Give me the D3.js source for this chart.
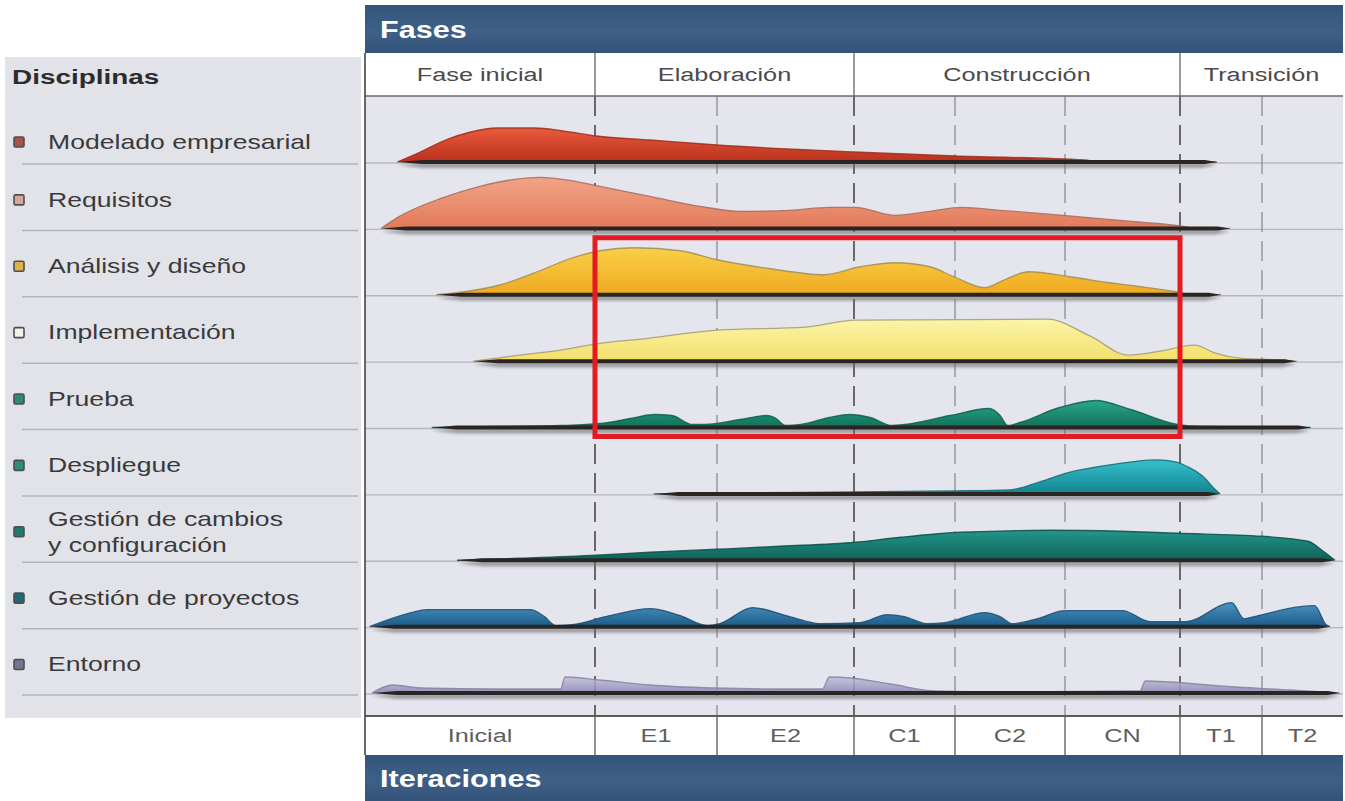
<!DOCTYPE html>
<html lang="es">
<head>
<meta charset="utf-8">
<title>Disciplinas e iteraciones</title>
<script src="https://cdn.jsdelivr.net/npm/d3@7/dist/d3.min.js"></script>
<style>
  html, body { margin: 0; padding: 0; background: #ffffff; }
  svg { display: block; font-family: "Liberation Sans", Arial, sans-serif; }
</style>
</head>
<body>
<svg id="chart" width="1345" height="801"></svg>
<script>
// ---------------------------------------------------------------
// Data: phases, iterations and the effort profile of each discipline.
// x values are positions along the project timeline measured in
// iterations (0 = start of "Inicial", 8 = end of "T2");
// effort values are relative (0-100).
// ---------------------------------------------------------------
const iterations = ["Inicial", "E1", "E2", "C1", "C2", "CN", "T1", "T2"];
const phases = ["Fase inicial", "Elaboración", "Construcción", "Transición"];
const phaseStart = [0, 1, 3, 6];
const phaseEnd = [1, 3, 6, 8];

const disciplines = [
  "Modelado empresarial", "Requisitos", "Análisis y diseño", "Implementación",
  "Prueba", "Despliegue", "Gestión de cambios\ny configuración",
  "Gestión de proyectos", "Entorno"
];

const modelado = [[0.14,0],[0.24,20],[0.35,44],[0.46,60],[0.57,68],[0.74,68],[0.86,62],[1.01,52],[1.45,44],[2.0,34],[3.0,20],[4.0,12],[5.17,4],[5.3,0],[6.45,0]];
const requisitos = [[0.07,0],[0.15,24],[0.33,60],[0.5,84],[0.65,98],[0.76,102],[0.89,96],[1.0,86],[1.45,64],[1.86,44],[2.17,34],[2.53,36],[2.82,42],[3.01,42],[3.41,26],[3.75,34],[4.06,42],[4.41,36],[4.88,28],[5.48,16],[5.97,6],[6.24,0],[6.61,0]];
const analisis = [[0.31,0],[0.46,8],[0.59,20],[0.76,48],[0.89,72],[1.04,88],[1.32,94],[1.7,88],[2.0,70],[2.39,52],[2.78,40],[3.06,56],[3.41,64],[3.75,56],[3.99,36],[4.27,14],[4.45,30],[4.67,46],[5.04,36],[5.39,24],[5.66,16],[5.97,6],[6.18,0],[6.5,0]];
const implementacion = [[0.47,0],[0.67,12],[0.85,22],[1.0,34],[1.45,46],[2.0,62],[2.65,68],[3.01,82],[4.84,84],[5.22,50],[5.55,12],[5.83,20],[6.18,32],[6.43,16],[6.73,6],[6.98,4],[7.43,0]];
const prueba = [[0.29,0],[0.59,2],[0.85,4],[1.04,8],[1.29,18],[1.49,26],[1.63,24],[1.8,6],[1.9,6],[2.17,16],[2.36,24],[2.42,20],[2.5,4],[2.61,6],[2.82,20],[2.97,26],[3.16,20],[3.38,4],[3.5,6],[3.95,24],[4.31,38],[4.41,24],[4.48,4],[4.59,10],[4.95,40],[5.27,54],[5.57,36],[5.98,6],[6.24,2],[7.6,0]];
const despliegue = [[1.48,0],[2.24,2],[3.0,4],[3.95,6],[4.5,8],[4.77,24],[5.02,42],[5.39,58],[5.8,68],[5.96,64],[6.12,52],[6.3,32],[6.41,12],[6.49,0]];
const cambios = [[0.4,0],[0.67,4],[1.01,10],[1.45,16],[2.0,22],[2.46,28],[3.01,36],[3.46,46],[4.06,56],[4.88,60],[5.48,58],[5.97,54],[7.0,48],[7.57,38],[7.74,20],[7.9,0]];
const proyectos = [[0.02,0],[0.09,12],[0.2,28],[0.27,34],[0.72,34],[0.78,20],[0.83,2],[0.9,4],[1.12,22],[1.45,36],[1.7,22],[1.92,2],[2.02,6],[2.26,38],[2.53,20],[2.75,6],[3.06,8],[3.33,24],[3.5,20],[3.72,6],[3.9,8],[4.27,28],[4.41,20],[4.52,6],[4.75,16],[5.0,32],[5.5,32],[5.74,10],[6.07,10],[6.63,48],[6.78,16],[6.85,18],[7.47,40],[7.65,42],[7.79,4],[7.84,0]];
const entorno = [[0.03,0],[0.12,16],[0.24,10],[0.59,8],[0.85,8],[0.87,32],[1.04,26],[1.45,16],[1.97,10],[2.46,8],[2.77,8],[2.82,32],[2.97,30],[3.36,18],[3.81,4],[4.41,2],[5.65,4],[5.7,24],[5.91,22],[6.49,14],[7.35,6],[7.96,0]];

const seriesList = [modelado, requisitos, analisis, implementacion, prueba, despliegue, cambios, proyectos, entorno];

// Colours per discipline: gradient top, gradient bottom, outline, legend swatch
const palette = [
  { top: "#ea5a3c", bottom: "#b9301d", line: "#9c2c1c", swatch: "#a4524a" },
  { top: "#f2a386", bottom: "#e27a5a", line: "#a66a5a", swatch: "#d9a4a0" },
  { top: "#fad048", bottom: "#efa920", line: "#a08c58", swatch: "#e2b24a" },
  { top: "#fcf4a8", bottom: "#f3df6c", line: "#a29a72", swatch: "#f4f1e8" },
  { top: "#2aa98a", bottom: "#0f6e58", line: "#0f5e4e", swatch: "#2c8a72" },
  { top: "#38bfcb", bottom: "#11858f", line: "#0d6a72", swatch: "#2e8a7a" },
  { top: "#23968a", bottom: "#0e6258", line: "#0b4e46", swatch: "#1f7a6c" },
  { top: "#4b94c2", bottom: "#1b5a88", line: "#174a70", swatch: "#1f6a72" },
  { top: "#c2bede", bottom: "#8a86ae", line: "#85819f", swatch: "#74748a" }
];

// ---------------------------------------------------------------
// Layout
// ---------------------------------------------------------------
const svg = d3.select("#chart");
const plotLeft = 365, plotRight = 1343;
const iterEdges = [365, 595, 717, 854, 955, 1065, 1180, 1262, 1343];
const headerTop = 5, headerBottom = 53;
const phaseRowBottom = 96;
const plotBottom = 716;
const iterRowBottom = 755;
const footerBottom = 801;
const textStretch = 1.33;
// distance from each row's baseline up to the centre of its legend label
const labelLift = [20, 28.5, 28.5, 28.5, 28.5, 28.5, 28.5, 28.5, 28.5];

const x = d3.scaleLinear().domain(d3.range(iterations.length + 1)).range(iterEdges);
const row = d3.scalePoint().domain(disciplines).range([162, 693]);
const h = d3.scaleLinear().domain([0, 100]).range([0, 50]);

const defs = svg.append("defs");

// header bar gradient
const hg = defs.append("linearGradient").attr("id", "bar").attr("x1", 0).attr("y1", 0).attr("x2", 0).attr("y2", 1);
hg.append("stop").attr("offset", "0%").attr("stop-color", "#33557c");
hg.append("stop").attr("offset", "55%").attr("stop-color", "#3f5f86");
hg.append("stop").attr("offset", "100%").attr("stop-color", "#34537a");

palette.forEach((p, i) => {
  const g = defs.append("linearGradient").attr("id", "hump" + i)
    .attr("x1", 0).attr("y1", 0).attr("x2", 0).attr("y2", 1);
  g.append("stop").attr("offset", "0%").attr("stop-color", p.top);
  g.append("stop").attr("offset", "100%").attr("stop-color", p.bottom);
});

const blur = defs.append("filter").attr("id", "soft").attr("x", "-5%").attr("y", "-200%").attr("width", "110%").attr("height", "500%");
blur.append("feGaussianBlur").attr("stdDeviation", 1.6);

const blurSmall = defs.append("filter").attr("id", "softer").attr("x", "-2%").attr("y", "-20%").attr("width", "104%").attr("height", "140%");
blurSmall.append("feGaussianBlur").attr("stdDeviation", 0.5);

function stretchedText(sel, tx, ty, anchor) {
  return sel.attr("transform", `translate(${tx},${ty}) scale(${textStretch},1)`)
    .attr("text-anchor", anchor || "start")
    .attr("dominant-baseline", "central");
}

// ---------------------------------------------------------------
// Legend panel (Disciplinas)
// ---------------------------------------------------------------
const legend = svg.append("g");
legend.append("rect").attr("x", 5).attr("y", 57).attr("width", 356).attr("height", plotBottom + 2 - 57)
  .attr("fill", "#e2e2e9");

stretchedText(legend.append("text"), 12, 77)
  .attr("font-size", 21).attr("font-weight", "bold").attr("fill", "#2c2c2c")
  .text("Disciplinas");

disciplines.forEach((d, i) => {
  const base = row(d);
  legend.append("line").attr("x1", 22).attr("x2", 358).attr("y1", base + 2).attr("y2", base + 2)
    .attr("stroke", "#b3b3bb").attr("stroke-width", 1.5);
  const lines = d.split("\n");
  const cy = base - labelLift[i];
  legend.append("rect").attr("x", 14).attr("y", cy - 5).attr("width", 10).attr("height", 10).attr("rx", 1.5)
    .attr("fill", palette[i].swatch).attr("stroke", "#4e4e4e").attr("stroke-width", 1.6);
  lines.forEach((t, k) => {
    const ly = cy + (k - (lines.length - 1) / 2) * 26;
    stretchedText(legend.append("text"), 48, ly)
      .attr("font-size", 20).attr("fill", "#3a3a3a").text(t);
  });
});

// ---------------------------------------------------------------
// Plot frame
// ---------------------------------------------------------------
svg.append("rect").attr("x", plotLeft).attr("y", headerTop).attr("width", plotRight - plotLeft)
  .attr("height", headerBottom - headerTop).attr("fill", "url(#bar)");
stretchedText(svg.append("text"), 380, 30)
  .attr("font-size", 23).attr("font-weight", "bold").attr("fill", "#ffffff").text("Fases");

svg.append("rect").attr("x", plotLeft).attr("y", headerBottom).attr("width", plotRight - plotLeft)
  .attr("height", phaseRowBottom - headerBottom).attr("fill", "#ffffff");

svg.append("rect").attr("x", plotLeft).attr("y", phaseRowBottom).attr("width", plotRight - plotLeft)
  .attr("height", plotBottom - phaseRowBottom).attr("fill", "#e5e5ed");

svg.append("rect").attr("x", plotLeft).attr("y", plotBottom).attr("width", plotRight - plotLeft)
  .attr("height", iterRowBottom - plotBottom).attr("fill", "#ffffff");

svg.append("rect").attr("x", plotLeft).attr("y", iterRowBottom).attr("width", plotRight - plotLeft)
  .attr("height", footerBottom - iterRowBottom).attr("fill", "url(#bar)");
stretchedText(svg.append("text"), 380, 779)
  .attr("font-size", 23).attr("font-weight", "bold").attr("fill", "#ffffff").text("Iteraciones");

// phase labels and dividers
phases.forEach((p, i) => {
  const cx = (x(phaseStart[i]) + x(phaseEnd[i])) / 2;
  stretchedText(svg.append("text"), cx, 75, "middle")
    .attr("font-size", 19).attr("fill", "#4a4a4a").text(p);
  if (i > 0) {
    svg.append("line").attr("x1", x(phaseStart[i])).attr("x2", x(phaseStart[i]))
      .attr("y1", headerBottom).attr("y2", phaseRowBottom)
      .attr("stroke", "#7a7a7a").attr("stroke-width", 1.5);
  }
});

// iteration labels and dividers
iterations.forEach((it, i) => {
  const cx = (x(i) + x(i + 1)) / 2;
  stretchedText(svg.append("text"), cx, 736, "middle")
    .attr("font-size", 19).attr("fill", "#5e5e5e").text(it);
  if (i > 0) {
    svg.append("line").attr("x1", x(i)).attr("x2", x(i))
      .attr("y1", plotBottom).attr("y2", iterRowBottom)
      .attr("stroke", "#6e6e6e").attr("stroke-width", 1.5);
  }
});

// row guide lines across the plot
disciplines.forEach(d => {
  svg.append("line").attr("x1", plotLeft).attr("x2", plotRight)
    .attr("y1", row(d) + 1).attr("y2", row(d) + 1)
    .attr("stroke", "#b6b6bf").attr("stroke-width", 1.3);
});

// dashed iteration boundaries
d3.range(1, iterations.length).forEach(i => {
  const isPhase = phaseStart.includes(i);
  svg.append("line").attr("x1", x(i)).attr("x2", x(i))
    .attr("y1", phaseRowBottom).attr("y2", plotBottom)
    .attr("stroke", isPhase ? "#4a4a4a" : "#8c8c94")
    .attr("stroke-width", isPhase ? 1.6 : 1.3)
    .attr("stroke-dasharray", "20,9");
});

// frame lines
svg.append("line").attr("x1", plotLeft).attr("x2", plotRight).attr("y1", phaseRowBottom).attr("y2", phaseRowBottom)
  .attr("stroke", "#6a6a6a").attr("stroke-width", 1.5);
svg.append("line").attr("x1", plotLeft).attr("x2", plotRight).attr("y1", plotBottom).attr("y2", plotBottom)
  .attr("stroke", "#5a5a5a").attr("stroke-width", 2);
svg.append("line").attr("x1", plotLeft).attr("x2", plotLeft).attr("y1", headerBottom).attr("y2", iterRowBottom)
  .attr("stroke", "#444").attr("stroke-width", 1.6);

// ---------------------------------------------------------------
// Effort humps
// ---------------------------------------------------------------
const humps = svg.append("g");
seriesList.forEach((data, i) => {
  const base = row(disciplines[i]);
  const area = d3.area()
    .x(d => x(d[0]))
    .y0(base)
    .y1(d => base - h(d[1]))
    .curve(d3.curveMonotoneX);
  const topLine = d3.line()
    .x(d => x(d[0]))
    .y(d => base - h(d[1]))
    .curve(d3.curveMonotoneX);
  const g = humps.append("g");
  g.append("path").attr("d", area(data)).attr("fill", `url(#hump${i})`)
    .attr("opacity", i === 8 ? 0.85 : 1).attr("filter", "url(#softer)");
  g.append("path").attr("d", topLine(data)).attr("fill", "none")
    .attr("stroke", palette[i].line).attr("stroke-width", 1.3).attr("opacity", 0.85);

  // shadowed baseline under each discipline
  const x0 = x(data[0][0]), x1 = x(data[data.length - 1][0]);
  g.append("path")
    .attr("d", `M${x0},${base + 3} L${x0 + 25},${base + 1} L${x1 - 15},${base + 1} L${x1},${base + 3} L${x1 - 15},${base + 6} L${x0 + 25},${base + 6} Z`)
    .attr("fill", "#6a6a70").attr("opacity", 0.6).attr("filter", "url(#soft)");
  g.append("path")
    .attr("d", `M${x0},${base} L${x0 + 25},${base - 2} L${x1 - 12},${base - 2} L${x1},${base} L${x1 - 12},${base + 2} L${x0 + 25},${base + 2} Z`)
    .attr("fill", "#2a2522");
});

// highlight frame around the core engineering work of Elaboración and Construcción
svg.append("rect")
  .attr("x", x(1)).attr("y", row(disciplines[2]) - 57)
  .attr("width", x(6) - x(1)).attr("height", row(disciplines[4]) + 9 - (row(disciplines[2]) - 57))
  .attr("fill", "none").attr("stroke", "#e31b23").attr("stroke-width", 5);
</script>
</body>
</html>
